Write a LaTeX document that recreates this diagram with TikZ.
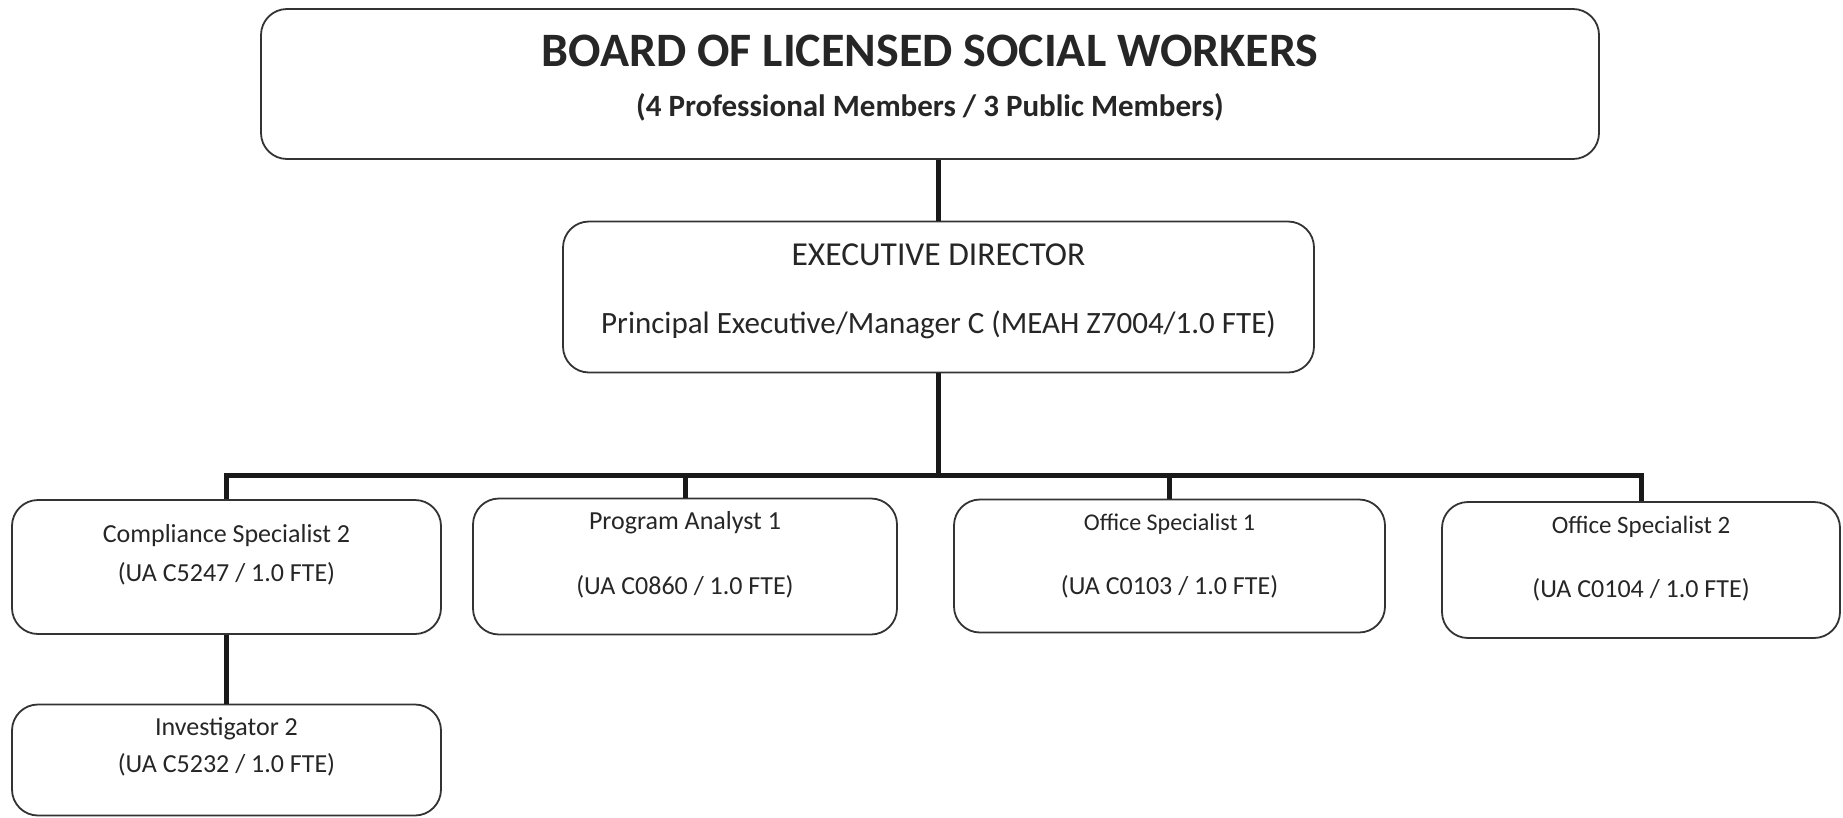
\documentclass[tikz,border=0pt]{standalone}
\usepackage{fontspec}
\setmainfont{Carlito}
\begin{document}
\begin{tikzpicture}[x=1pt,y=-1pt,
  box/.style={draw=black!80, line width=1.8pt, rounded corners=26pt, inner sep=0pt, fill=white},
  conn/.style={line width=5pt, draw=black!90, line join=miter},
  txt/.style={inner sep=0pt, text=black!85, anchor=center},
  small/.style={font=\fontsize{26}{30}\selectfont}]
\useasboundingbox (0,0) rectangle (1843,817);
% boxes
\node[box, minimum width=1338pt, minimum height=150pt] (board) at (930,84) {};
\node[box, minimum width=751pt, minimum height=151pt] (exec) at (938.5,297) {};
\node[box, minimum width=429pt, minimum height=134pt] (comp) at (226.5,567) {};
\node[box, minimum width=424pt, minimum height=136pt] (pa) at (685,566.5) {};
\node[box, minimum width=431pt, minimum height=133pt] (os1) at (1169.5,566) {};
\node[box, minimum width=398pt, minimum height=136pt] (os2) at (1641,570) {};
\node[box, minimum width=429pt, minimum height=111pt] (inv) at (226.5,760) {};
% texts
\node[txt, font=\fontsize{48}{54}\selectfont\bfseries] (t1) at (930,51) {BOARD OF LICENSED SOCIAL WORKERS};
\node[txt, font=\fontsize{31}{36}\selectfont\bfseries] (t2) at (930,107) {(4 Professional Members / 3 Public Members)};
\node[txt, font=\fontsize{33.5}{38}\selectfont] (e1) at (938.5,255) {EXECUTIVE DIRECTOR};
\node[txt, font=\fontsize{31}{36}\selectfont] (e2) at (938.5,325) {Principal Executive/Manager C (MEAH Z7004/1.0 FTE)};
\node[txt, small] (c1) at (226.5,536) {Compliance Specialist 2};
\node[txt, small] (c2) at (226.5,574) {(UA C5247 / 1.0 FTE)};
\node[txt, small] (p1) at (685,523) {Program Analyst 1};
\node[txt, small] (p2) at (685,587) {(UA C0860 / 1.0 FTE)};
\node[txt, font=\fontsize{24}{28}\selectfont] (o11) at (1169.5,524) {Office Specialist 1};
\node[txt, small] (o12) at (1169.5,587) {(UA C0103 / 1.0 FTE)};
\node[txt, font=\fontsize{25}{29}\selectfont] (o21) at (1641,527) {Office Specialist 2};
\node[txt, small] (o22) at (1641,590) {(UA C0104 / 1.0 FTE)};
\node[txt, small] (i1) at (226.5,729) {Investigator 2};
\node[txt, small] (i2) at (226.5,765) {(UA C5232 / 1.0 FTE)};
% connectors
\coordinate (bar) at (939,475);
\draw[conn] (exec.north |- board.south) -- (exec.north);
\draw[conn] (exec.south) -- (exec.south |- bar);
\draw[conn] (comp.north) -- (comp.north |- bar) -- (os2.north |- bar) -- (os2.north);
\draw[conn] (pa.north |- bar) -- (pa.north);
\draw[conn] (os1.north |- bar) -- (os1.north);
\draw[conn] (comp.south) -- (inv.north);
\end{tikzpicture}
\end{document}
